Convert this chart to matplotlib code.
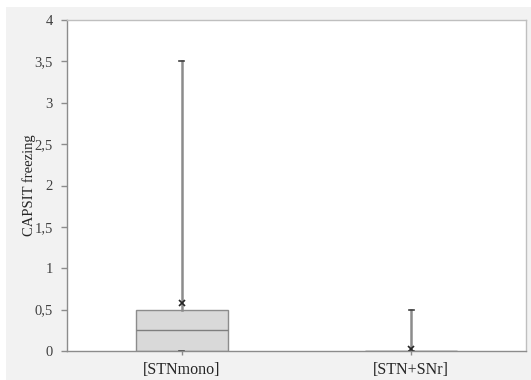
import matplotlib
matplotlib.use("Agg")
import matplotlib.pyplot as plt
from matplotlib.patches import Rectangle

# box statistics
groups = ["[STNmono]", "[STN+SNr]"]
q1 = [0.0, 0.0]
median = [0.25, 0.0]
q3 = [0.5, 0.0]
whisker_low = [0.0, 0.0]
whisker_high = [3.5, 0.5]
means = [0.58, 0.03]

y_ticks = [0, 0.5, 1, 1.5, 2, 2.5, 3, 3.5, 4]
y_tick_labels = [str(v).replace(".", ",") for v in y_ticks]

plt.rcParams["font.family"] = ["Liberation Serif", "DejaVu Serif"]

W, H = 531, 380
fig = plt.figure(figsize=(W / 100, H / 100), dpi=100)
fig.patch.set_facecolor("white")
# gray chart area with a thin white margin top/left
fig.patches.append(Rectangle((6 / W, 0), 1 - 6 / W, 1 - 7 / H, transform=fig.transFigure,
                             facecolor="#f2f2f2", edgecolor="none", zorder=-10))

ax = fig.add_axes([67 / W, (H - 351) / H, 459 / W, 331 / H])
ax.set_zorder(1)
ax.set_facecolor("white")

stats = []
for i in range(len(groups)):
    stats.append(dict(label=groups[i], q1=q1[i], med=median[i], q3=q3[i],
                      whislo=whisker_low[i], whishi=whisker_high[i], mean=means[i],
                      fliers=[]))

ax.bxp(stats, positions=[0.5, 1.5], widths=0.4, patch_artist=True, showmeans=True,
       boxprops=dict(facecolor="#d9d9d9", edgecolor="#8c8c8c", linewidth=1.0),
       medianprops=dict(color="#7f7f7f", linewidth=1.0),
       whiskerprops=dict(color="#8c8c8c", linewidth=1.8),
       capprops=dict(color="#404040", linewidth=1.2),
       capwidths=0.02,
       meanprops=dict(marker="x", markeredgecolor="#262626", markersize=4, markeredgewidth=1.2))

ax.set_xlim(0, 2)
ax.set_ylim(0, 4)
ax.set_yticks(y_ticks)
ax.set_yticklabels(y_tick_labels)
ax.set_xticks([0.5, 1.5])
ax.set_xticklabels(groups)

for s in ax.spines.values():
    s.set_color("#bfbfbf")
    s.set_linewidth(1.0)
ax.spines["left"].set_color("#8c8c8c")
ax.spines["bottom"].set_color("#8c8c8c")

ax.tick_params(axis="y", direction="out", length=4, width=1, color="#8c8c8c",
               labelsize=10.5, labelcolor="#404040", pad=6)
ax.tick_params(axis="x", direction="out", length=3, width=1, color="#8c8c8c",
               labelsize=11.5, labelcolor="#262626", pad=5)
ax.set_ylabel("CAPSIT freezing", fontsize=10.5, color="#262626")
ax.yaxis.set_label_coords(-31 / 459, 0.5)

fig.savefig("out.png", dpi=100, facecolor=fig.get_facecolor())
